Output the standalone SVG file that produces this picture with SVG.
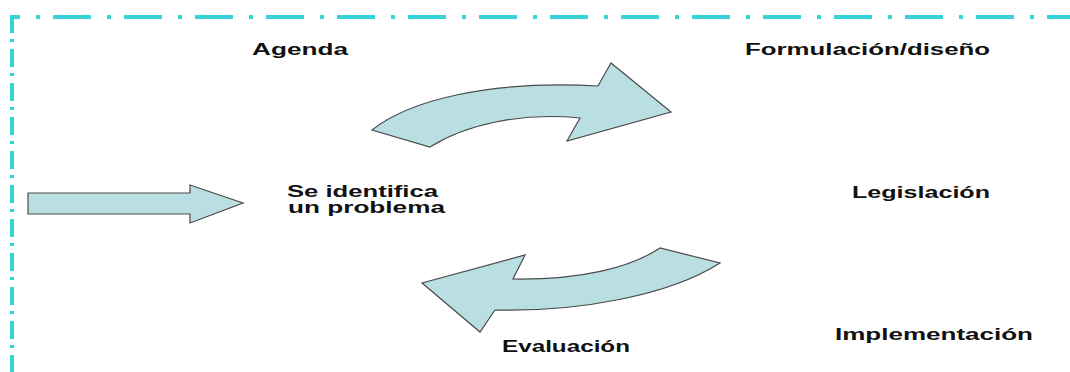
<svg xmlns="http://www.w3.org/2000/svg" width="1070" height="372" viewBox="0 0 1070 372">
  <style>
    .lbl { font-family: "Liberation Sans", Arial, sans-serif; font-size: 16px; font-weight: bold; fill: #111; }
    .blk { fill: #b9dfe2; stroke: #4a4a4a; stroke-width: 1.2; stroke-linejoin: miter; }
    .frame { stroke: #36d4d6; stroke-width: 4; fill: none; }
  </style>
  <rect width="1070" height="372" fill="#ffffff"/>
  <g id="frame">
    <line class="frame" x1="10" y1="17" x2="1070" y2="17" stroke-dasharray="38 16 4 13" stroke-dashoffset="28"/>
    <line class="frame" x1="12" y1="15" x2="12" y2="372" stroke-dasharray="18 6 3 7"/>
  </g>
  <g id="connectors">
    <path id="arrow-entrada" class="blk" d="M28,193 L190,193 L190,185 L243,203 L190,223 L190,214 L28,214 Z"/>
    <path id="arrow-superior" class="blk" d="M372,130 C410,100 490,80 598,86 L611,63 L671,112 L567,141 L580,118 C520,112 465,125 430,147 Z"/>
    <path id="arrow-inferior" class="blk" d="M660,248 C630,268 580,280 513,279 L525,255 L422,283 L480,332 L495,310 C580,312 670,295 720,263 Z"/>
  </g>
  <g id="agenda"><text class="lbl" x="252" y="55" textLength="96" lengthAdjust="spacingAndGlyphs">Agenda</text></g>
  <g id="formulacion"><text class="lbl" x="745" y="55" textLength="245" lengthAdjust="spacingAndGlyphs">Formulación/diseño</text></g>
  <g id="problema">
    <text class="lbl" x="287" y="197" textLength="151" lengthAdjust="spacingAndGlyphs">Se identifica</text>
    <text class="lbl" x="288" y="213" textLength="157" lengthAdjust="spacingAndGlyphs">un problema</text>
  </g>
  <g id="legislacion"><text class="lbl" x="852" y="198" textLength="138" lengthAdjust="spacingAndGlyphs">Legislación</text></g>
  <g id="implementacion"><text class="lbl" x="835" y="340" textLength="198" lengthAdjust="spacingAndGlyphs">Implementación</text></g>
  <g id="evaluacion"><text class="lbl" x="502" y="352" textLength="128" lengthAdjust="spacingAndGlyphs">Evaluación</text></g>
</svg>
